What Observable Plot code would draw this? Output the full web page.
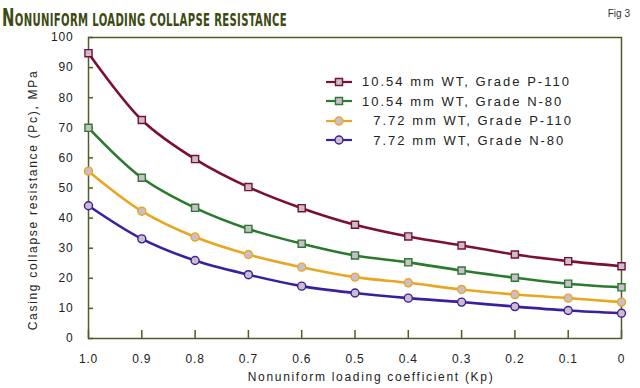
<!DOCTYPE html>
<html>
<head>
<meta charset="utf-8">
<script src="https://cdn.jsdelivr.net/npm/d3@7"></script>
<script src="https://cdn.jsdelivr.net/npm/@observablehq/plot@0.6"></script>
<style>
  html, body { margin: 0; padding: 0; background: #fff; }
  #wrap { position: relative; width: 640px; height: 388px; overflow: hidden; font-family: "Liberation Sans", Arial, sans-serif; }
  #title { position: absolute; left: 2px; top: 3px; white-space: nowrap; color: #3d4a12; font-family: "DejaVu Sans Condensed", "DejaVu Sans", sans-serif; font-weight: bold; font-size: 17px; transform: scaleX(0.66); transform-origin: left top; letter-spacing: 0.5px; text-transform: uppercase; }
  #title .big { font-size: 25px; }
  #fig { position: absolute; right: 10px; top: 8px; font-size: 10px; color: #333; }
  #chart { position: absolute; left: 0; top: 30px; }
  #legend { position: absolute; left: 325px; top: 72px; font-size: 13px; color: #222; letter-spacing: 2px; }
  #legend .row { height: 19.5px; display: flex; align-items: center; white-space: pre; }
  #legend svg { margin-right: 9px; }
  #chart text { letter-spacing: 0.8px; }
</style>
</head>
<body>
<div id="wrap">
  <div id="title"><span class="big">N</span>ONUNIFORM LOADING COLLAPSE RESISTANCE</div>
  <div id="fig">Fig 3</div>
  <div id="chart"></div>
  <div id="legend"></div>
</div>
<script>
const kp = [1.0, 0.9, 0.8, 0.7, 0.6, 0.5, 0.4, 0.3, 0.2, 0.1, 0];
const seriesNames = [
  "10.54 mm WT, Grade P-110",
  "10.54 mm WT, Grade N-80",
  "  7.72 mm WT, Grade P-110",
  "  7.72 mm WT, Grade N-80"
];
const p110_1054 = [94.8, 72.6, 59.6, 50.3, 43.3, 37.8, 33.9, 30.9, 27.9, 25.7, 24.0];
const n80_1054  = [70.0, 53.4, 43.4, 36.4, 31.5, 27.6, 25.3, 22.6, 20.2, 18.2, 17.0];
const p110_772  = [55.6, 42.3, 33.7, 27.9, 23.7, 20.4, 18.5, 16.3, 14.6, 13.4, 12.1];
const n80_772   = [44.1, 33.1, 25.9, 21.2, 17.4, 15.1, 13.4, 12.1, 10.6, 9.3, 8.4];
const seriesValues = [p110_1054, n80_1054, p110_772, n80_772];
const seriesColors = ["#7a1034", "#2b7a2e", "#e8a722", "#3b1f9c"];
const seriesSymbols = ["square", "square", "circle", "circle"];
const yTicks = [0, 10, 20, 30, 40, 50, 60, 70, 80, 90, 100];
const xTicks = [1.0, 0.9, 0.8, 0.7, 0.6, 0.5, 0.4, 0.3, 0.2, 0.1, 0];
const xLabel = "Nonuniform loading coefficient (Kp)";
const yLabel = "Casing collapse resistance (Pc), MPa";

const rows = seriesNames.flatMap((name, i) =>
  kp.map((k, j) => ({series: name, kp: k, value: seriesValues[i][j]})));

const axisColor = "#4f5d28";
const markerFill = "#cbbdcb";

const chart = Plot.plot({
  width: 640,
  height: 358,
  marginLeft: 88,
  marginRight: 19,
  marginTop: 7,
  marginBottom: 50,
  style: {fontFamily: "Liberation Sans, Arial, sans-serif", fontSize: "12px", color: "#222", background: "white"},
  x: {domain: [1, 0], ticks: xTicks},
  y: {domain: [0, 100], ticks: yTicks},
  color: {domain: seriesNames, range: seriesColors},
  symbol: {domain: seriesNames, range: seriesSymbols},
  marks: [
    Plot.frame({stroke: axisColor, strokeWidth: 1.5}),
    Plot.axisX({ticks: xTicks, tickSize: -8, tickPadding: 24, stroke: axisColor, strokeWidth: 1.5,
      tickFormat: d => d === 0 ? "0" : d.toFixed(1), fill: "#222", fontSize: 12,
      label: null}),
    Plot.axisY({ticks: yTicks, tickSize: -5, tickPadding: 20, stroke: axisColor, strokeWidth: 1.5,
      fill: "#222", fontSize: 12, label: null}),
    Plot.axisX({ticks: [], label: xLabel, labelAnchor: "center", labelOffset: 42, fontSize: 12, fill: "#222", labelArrow: false}),
    Plot.axisY({ticks: [], label: yLabel, labelAnchor: "center", labelOffset: 60, fontSize: 12, fill: "#222", labelArrow: false}),
    Plot.line(rows, {x: "kp", y: "value", z: "series", stroke: "series", strokeWidth: 2.6, curve: "catmull-rom"}),
    Plot.dot(rows, {x: "kp", y: "value", symbol: "series", stroke: "series", fill: markerFill, r: 4, strokeWidth: 1.4})
  ]
});
const labelTexts = d3.select(chart).selectAll("text")
  .filter(function() { return this.textContent === xLabel || this.textContent === yLabel; })
  .style("letter-spacing", "1.7px");
labelTexts.filter(function() { return this.textContent === xLabel; }).attr("dx", 16);
labelTexts.filter(function() { return this.textContent === yLabel; }).attr("dx", -12);
document.getElementById("chart").appendChild(chart);

// Legend
const legend = d3.select("#legend");
seriesNames.forEach((name, i) => {
  const row = legend.append("div").attr("class", "row");
  const sw = row.append("svg").attr("width", 28).attr("height", 12);
  sw.append("line").attr("x1", 1).attr("x2", 27).attr("y1", 6).attr("y2", 6)
    .attr("stroke", seriesColors[i]).attr("stroke-width", 2.2);
  const sym = seriesSymbols[i] === "square" ? d3.symbolSquare : d3.symbolCircle;
  sw.append("path").attr("d", d3.symbol(sym, 50)()).attr("transform", "translate(14,6)")
    .attr("fill", markerFill).attr("stroke", seriesColors[i]).attr("stroke-width", 1.4);
  row.append("span").text(name);
});
</script>
</body>
</html>
